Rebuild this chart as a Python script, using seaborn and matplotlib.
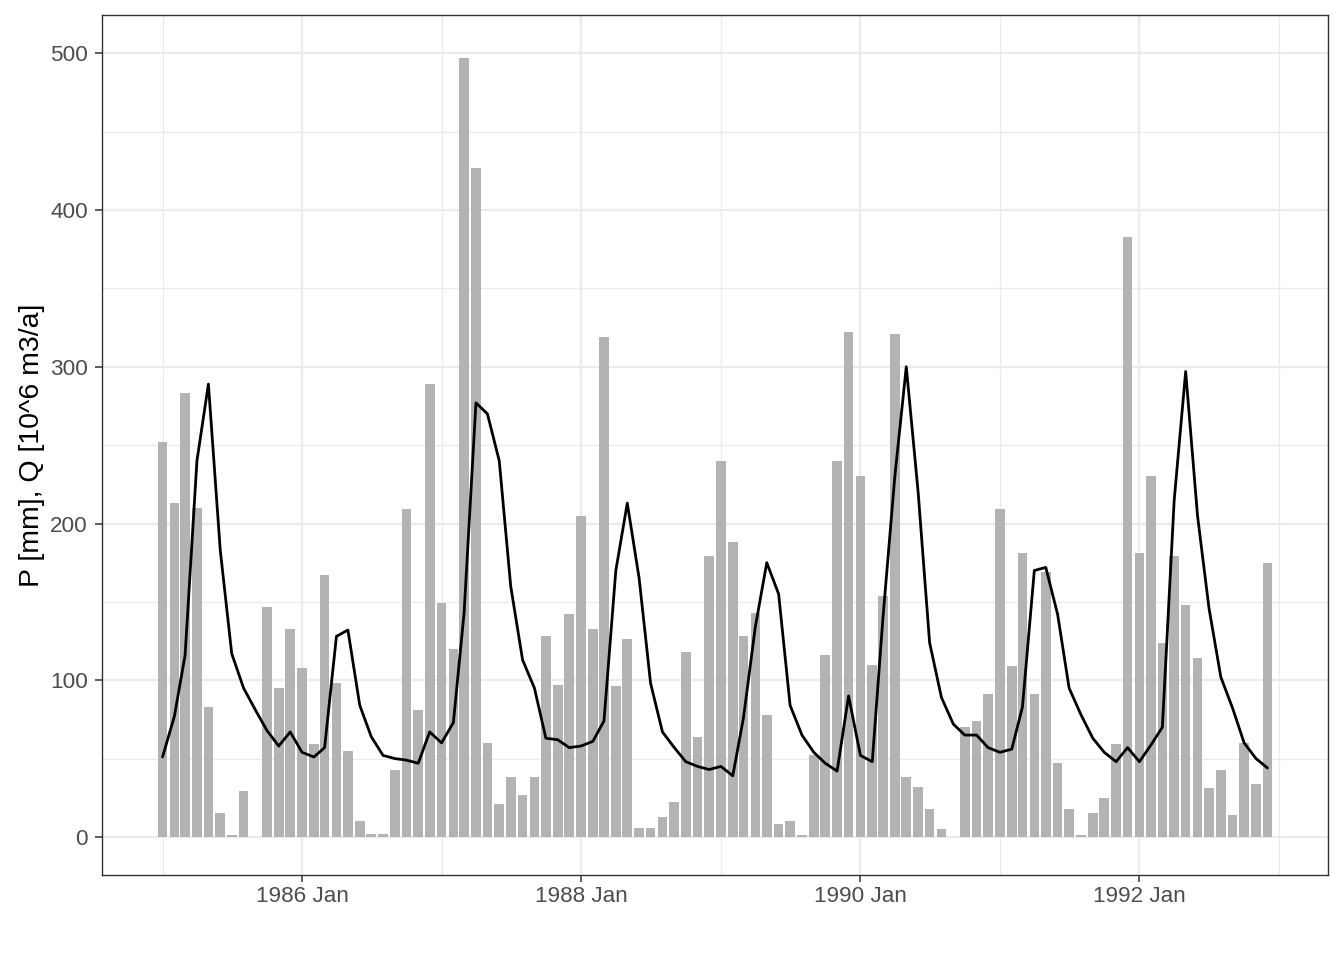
import numpy as np
import pandas as pd
import matplotlib
matplotlib.use("Agg")
import matplotlib.pyplot as plt
import matplotlib.dates as mdates
import seaborn as sns

# Monthly data, Jan 1985 - Dec 1992
start_month = "1985-01-01"
end_month = "1992-12-01"

P = [252, 213, 283, 210, 83, 15, 1, 29, 0, 147, 95, 133,
     108, 59, 167, 98, 55, 10, 2, 2, 43, 209, 81, 289,
     149, 120, 497, 427, 60, 21, 38, 27, 38, 128, 97, 142,
     205, 133, 319, 96, 126, 6, 6, 13, 22, 118, 64, 179,
     240, 188, 128, 143, 78, 8, 10, 1, 52, 116, 240, 322,
     230, 110, 154, 321, 38, 32, 18, 5, 0, 70, 74, 91,
     209, 109, 181, 91, 169, 47, 18, 1, 15, 25, 59, 383,
     181, 230, 124, 179, 148, 114, 31, 43, 14, 60, 34, 175]

Q = [51, 77, 116, 240, 289, 183, 117, 95, 81, 68, 58, 67,
     54, 51, 57, 128, 132, 84, 64, 52, 50, 49, 47, 67,
     60, 73, 143, 277, 270, 240, 160, 113, 95, 63, 62, 57,
     58, 61, 74, 170, 213, 165, 98, 67, 57, 48, 45, 43,
     45, 39, 76, 134, 175, 155, 84, 65, 54, 47, 42, 90,
     52, 48, 140, 230, 300, 220, 124, 89, 72, 65, 65, 57,
     54, 56, 83, 170, 172, 142, 95, 78, 63, 54, 48, 57,
     48, 59, 70, 215, 297, 205, 146, 102, 82, 60, 50, 44]

y_label = "P [mm], Q [10^6 m3/a]"
y_ticks = [0, 100, 200, 300, 400, 500]
y_limits = (-24.3, 524.5)
x_major_years = [1986, 1988, 1990, 1992]
x_minor_years = [1985, 1987, 1989, 1991, 1993]

dates = pd.date_range(start_month, end_month, freq="MS")
df = pd.DataFrame({"date": dates, "P": P, "Q": Q})

sns.set_theme(style="white")
plt.rcParams['font.family'] = ['Liberation Sans', 'DejaVu Sans']

W, H = 1344, 960
fig = plt.figure(figsize=(W / 100, H / 100), dpi=100)
L, R, T, B = 102, 1328, 15, 875
ax = fig.add_axes([L / W, 1 - B / H, (R - L) / W, (B - T) / H])

bar_w = 0.9 * 28  # days
ax.bar(df["date"], df["P"], width=bar_w, color="#B3B3B3", zorder=2, linewidth=0)
sns.lineplot(data=df, x="date", y="Q", color="black", linewidth=2.0, ax=ax, zorder=3)

# x limits with ggplot-like 5% expansion
xnum = mdates.date2num(df["date"])
x0, x1 = xnum.min() - bar_w / 2, xnum.max() + bar_w / 2
dx = (x1 - x0) * 0.05
ax.set_xlim(x0 - dx, x1 + dx)
ax.set_ylim(*y_limits)

ax.set_yticks(y_ticks)
ax.set_yticks([v + 50 for v in y_ticks[:-1]], minor=True)
ax.set_xticks([mdates.date2num(pd.Timestamp(f"{y}-01-01")) for y in x_major_years])
ax.set_xticks([mdates.date2num(pd.Timestamp(f"{y}-01-01")) for y in x_minor_years], minor=True)
ax.xaxis.set_major_formatter(mdates.DateFormatter("%Y %b"))

ax.set_axisbelow(True)
ax.grid(which="major", color="#EBEBEB", linewidth=1.6, zorder=0)
ax.grid(which="minor", color="#EBEBEB", linewidth=1.0, zorder=0)

for s in ax.spines.values():
    s.set_color("#333333")
    s.set_linewidth(1.0)
    s.set_visible(True)

ax.tick_params(which="major", direction="out", length=5.2, width=1.1, color="#333333",
               labelcolor="#4D4D4D", labelsize=16.2, bottom=True, left=True)
ax.tick_params(axis="y", which="major", pad=5.0)
ax.tick_params(axis="x", which="major", pad=2.8)
ax.tick_params(which="minor", length=0)

ax.set_xlabel("")
ax.set_ylabel(y_label, fontsize=20.5, color="black")
ax.yaxis.set_label_coords((45 - L) / (R - L), 0.5)

fig.savefig("out.png", dpi=100)
